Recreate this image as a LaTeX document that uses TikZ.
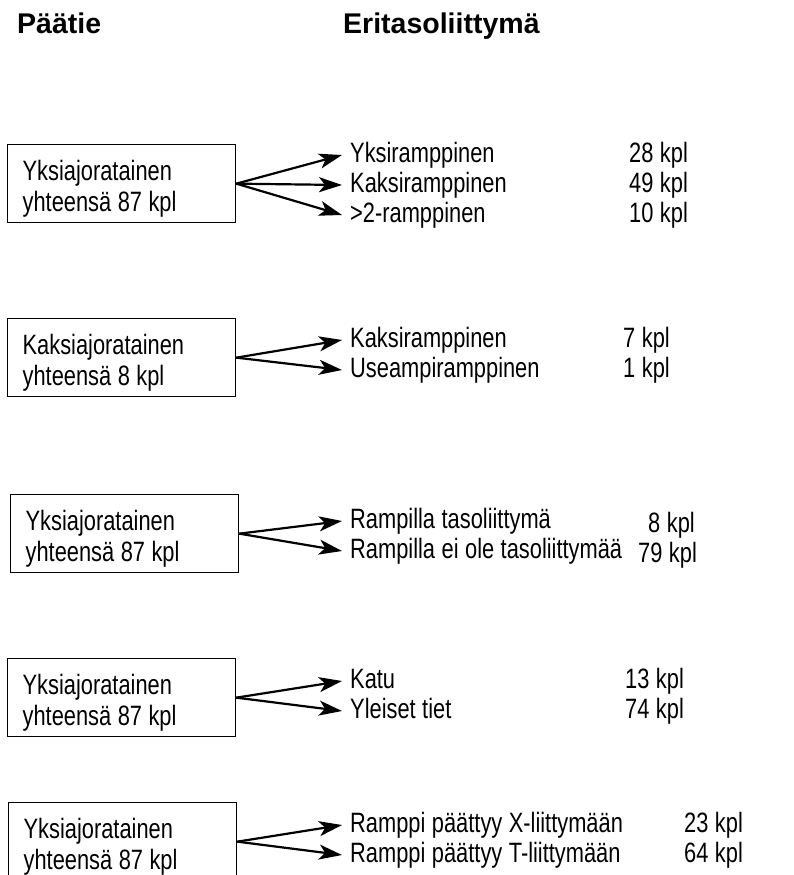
\documentclass[tikz,border=0pt]{standalone}
\usepackage{fontspec}
\setmainfont{Liberation Sans}[FakeStretch=0.78]
\newfontfamily\headfont{Liberation Sans}
\usetikzlibrary{arrows.meta}

\begin{document}
\begin{tikzpicture}[x=1pt, y=-1pt,
		box/.style={draw, line width=1.3pt, anchor=north west, minimum width=228pt, minimum height=78pt,
			text width=198pt, inner xsep=15pt, align=left, font=\fontsize{28}{31}\selectfont,
			execute at begin node={\spaceskip=6.5pt\relax\rule{0pt}{31pt}}},
		lbl/.style={anchor=west, inner xsep=8pt, inner ysep=0pt, text height=20pt, text depth=6pt,
			font=\fontsize{28}{31}\selectfont, execute at begin node={\spaceskip=6.5pt\relax}},
		num/.style={anchor=west, inner sep=0pt, text height=20pt, text depth=6pt,
			font=\fontsize{28}{31}\selectfont, execute at begin node={\spaceskip=6.5pt\relax}},
		arr/.style={line width=2.2pt, -{Stealth[length=23pt, width=15pt, inset=6pt]}},
		heading/.style={anchor=base west, inner sep=0pt, font=\headfont\bfseries\fontsize{28.5}{34}\selectfont}]
		
		\useasboundingbox (0,0) rectangle (794,875);
		\clip (0,0) rectangle (794,875);
		
		\node[heading] (paatie) at (17,34) {Päätie};
		\node[heading] (eritaso) at (343,34) {Eritasoliittymä};
		
		% ryhma 1
		\node[box] (b1) at (7,144) {Yksiajoratainen\\yhteensä 87 kpl};
		\node[lbl] (r11) at (342,155) {Yksiramppinen};
		\node[lbl] (r12) at (342,185) {Kaksiramppinen};
		\node[lbl] (r13) at (342,215) {>2-ramppinen};
		\node[num] (k11) at (629,155) {28 kpl};
		\node[num] (k12) at (629,185) {49 kpl};
		\node[num] (k13) at (629,215) {10 kpl};
		\draw[arr] (b1.east) -- (r11.west);
		\draw[arr] (b1.east) -- (r12.west);
		\draw[arr] (b1.east) -- (r13.west);
		
		% ryhma 2
		\node[box] (b2) at (7,318) {Kaksiajoratainen\\yhteensä 8 kpl};
		\node[lbl] (r21) at (342,340) {Kaksiramppinen};
		\node[lbl] (r22) at (342,370) {Useampiramppinen};
		\node[num] (k21) at (623,340) {7 kpl};
		\node[num] (k22) at (623,370) {1 kpl};
		\draw[arr] (b2.east) -- (r21.west);
		\draw[arr] (b2.east) -- (r22.west);
		
		% ryhma 3
		\node[box] (b3) at (10,494) {Yksiajoratainen\\yhteensä 87 kpl};
		\node[lbl] (r31) at (342,521) {Rampilla tasoliittymä};
		\node[lbl] (r32) at (342,551) {Rampilla ei ole tasoliittymää};
		\node[num] (k31) at (648,525) {8 kpl};
		\node[num] (k32) at (638,555) {79 kpl};
		\draw[arr] (b3.east) -- (r31.west);
		\draw[arr] (b3.east) -- (r32.west);
		
		% ryhma 4
		\node[box] (b4) at (7,658) {Yksiajoratainen\\yhteensä 87 kpl};
		\node[lbl] (r41) at (342,681) {Katu};
		\node[lbl] (r42) at (342,711) {Yleiset tiet};
		\node[num] (k41) at (625,681) {13 kpl};
		\node[num] (k42) at (625,711) {74 kpl};
		\draw[arr] (b4.east) -- (r41.west);
		\draw[arr] (b4.east) -- (r42.west);
		
		% ryhma 5
		\node[box] (b5) at (8,802) {Yksiajoratainen\\yhteensä 87 kpl};
		\node[lbl] (r51) at (342,825) {Ramppi päättyy X-liittymään};
		\node[lbl] (r52) at (342,855) {Ramppi päättyy T-liittymään};
		\node[num] (k51) at (684,825) {23 kpl};
		\node[num] (k52) at (684,855) {64 kpl};
		\draw[arr] (b5.east) -- (r51.west);
		\draw[arr] (b5.east) -- (r52.west);
		
	\end{tikzpicture}
\end{document}
